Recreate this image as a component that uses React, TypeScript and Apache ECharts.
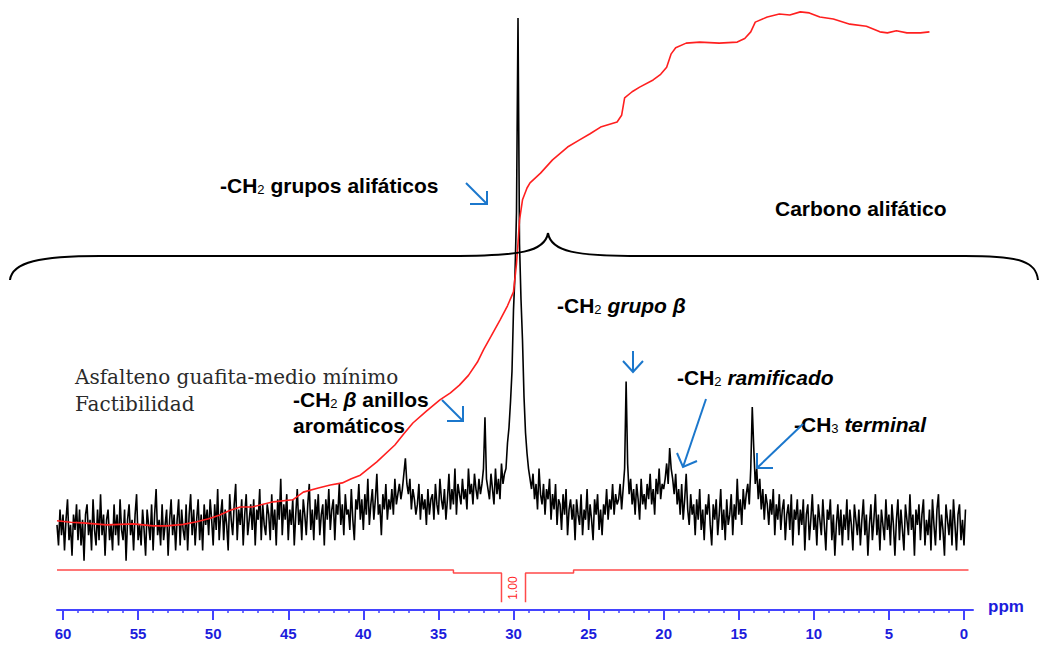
import React, { useEffect, useRef } from "react";
import * as echarts from "echarts";

// 13C NMR spectrum sampled every 0.1 ppm, starting at 60.4 ppm and going down.
const PPM_START = 60.4;
const PPM_STEP = 0.1;
const intensity = [
  // 60.4 – 50.5
  1, -3, 4, -1, 3, -4, 2, 6, -2, 1,
  -5, 3, 0, 5, -2, 4, -3, 2, -6, 3,
  5, -1, 2, -4, 6, 0, -3, 4, -2, 7,
  -1, 3, -5, 2, 4, -2, 1, -4, 5, -1,
  3, -3, 6, 0, -2, 4, -6, 2, 5, -1,
  2, -4, 3, 7, -2, 1, -3, 4, 0, -5,
  4, 1, -2, 5, -4, 3, 8, -1, 2, -3,
  5, -2, 1, 4, -5, 2, 6, -1, 3, -4,
  2, 6, -3, 4, 0, -2, 5, -4, 3, 7,
  -1, 4, -3, 2, 6, -2, 3, -4, 5, 1,
  // 50.4 – 40.5
  4, -1, 6, 2, -3, 5, 0, 8, -2, 3,
  6, -2, 4, 1, -4, 7, 2, -1, 5, 9,
  -2, 4, 1, 6, -3, 3, 7, -1, 2, 5,
  0, 6, -3, 4, 2, 8, -2, 5, 1, -1,
  5, 3, -2, 7, 0, 4, -3, 6, 2, 10,
  -1, 5, 2, 7, -2, 4, 1, 6, -3, 3,
  8, 1, 4, -2, 6, 3, -1, 5, 9, 0,
  4, -2, 6, 2, 7, -1, 3, 5, -3, 6,
  2, 8, 0, 4, 6, -2, 5, 3, 9, 1,
  5, -1, 7, 3, 4, 0, 8, 2, -2, 6,
  // 40.4 – 30.6
  4, 9, 2, 6, 0, 7, 3, 10, 1, 5,
  8, 2, 6, 11, 3, 5, -1, 7, 4, 9,
  2, 6, 4, 8, 3, 10, 5, 7, 9, 6,
  8, 11, 14, 9, 7, 10, 4, 8, 6, 3,
  5, 9, 2, 7, 4, 6, 1, 8, 3, 6,
  7, 2, 9, 5, 3, 10, 6, 4, 8, 2,
  6, 11, 4, 8, 5, 12, 3, 9, 7, 5,
  10, 6, 8, 4, 12, 7, 9, 5, 11, 8,
  6, 10, 7, 9, 12, 22, 10, 8, 6, 11,
  8, 5, 12, 7, 10, 6, 13, 9, 11,
  // 30.5 – 28.8 (main CH2 peak)
  12, 17, 20, 25, 31, 43, 50, 62, 100, 56, 45, 37, 26, 19, 15, 12, 10, 8,
  // 28.7 – 23.1
  11, 6, 9, 4, 12, 7, 5, 9,
  3, 8, 6, 10, 2, 7, 4, 9, 1, 6,
  5, 0, 7, 3, 8, -1, 4, 6, 2, 5,
  -2, 6, 3, 1, 7, -1, 4, 2, 8, 0,
  5, 2, -2, 6, 3, 7, 0, 4, -1, 5,
  3, 8, 2, 6, 4, 9, 3, 7, 5,
  // 23.0 – 0.1
  6, 9, 4, 8, 12, 29, 13, 7, 10, 5,
  8, 3, 9, 6, 2, 10, 5, 7, 4, 9,
  6, 11, 5, 8, 3, 10, 7, 12, 6, 9,
  8, 10, 13, 9, 16, 12, 10, 7, 11, 5,
  8, 3, 9, 2, 6, 11, 4, 1, 7, 3,
  5, -1, 6, 2, 8, 0, 4, -2, 5, 3,
  7, 1, -3, 5, 2, 6, -1, 3, 8, 0,
  4, -2, 6, 1, 3, 7, -1, 5, 2, 10,
  3, 6, 1, 8, 4, 7, 9, 5, 12, 24,
  16, 9, 12, 6, 10, 4, 8, 2, 7, 5,
  1, 6, 3, 8, -1, 5, 2, 7, 0, 4,
  6, -2, 3, 5, 0, 7, -3, 4, 2, 6,
  -1, 4, 1, 6, -4, 3, 5, -2, 2, 7,
  0, 3, -3, 5, 2, -1, 6, 1, -4, 4,
  2, 6, -2, 3, -5, 1, 5, -1, 4, -3,
  3, 0, 6, -2, 4, 1, -4, 5, 2, -1,
  4, -3, 2, 6, -1, 3, -5, 1, 5, -2,
  2, 7, -1, 3, -4, 4, 1, -2, 6, 0,
  3, -3, 5, 1, -5, 2, 6, -2, 4, 0,
  -4, 5, 2, -1, 7, 0, 3, -5, 4, 1,
  5, -2, 3, 6, -3, 2, -1, 4, -4, 6,
  1, -3, 4, 7, -2, 3, 0, -5, 5, 2,
  -1, 4, -3, 6, 1, -4, 3, 5, -2, 2,
  // 0.0 – -0.1
  -3, 4,
];

// Running integral curve (ppm, value)
const integralPpm = [
  60.4, 59.5, 58.7, 57.9, 57.1, 56.2, 55.3, 54.0, 53.1, 52.0, 51.1, 50.3,
  49.6, 48.9, 48.2, 47.4, 46.0, 44.7, 44.0, 43.0, 42.2, 41.4, 40.8, 40.2,
  39.1, 37.9, 37.3, 36.7, 35.8, 34.9, 34.2, 33.6, 33.0, 32.4, 32.0, 31.5,
  30.9, 30.4, 30.0, 29.8, 29.7, 29.6, 29.4, 29.1, 28.9, 28.2, 27.4, 26.4,
  25.6, 24.9, 24.2, 23.1, 22.8, 22.6, 22.1, 21.6, 20.7, 20.2, 19.8, 19.5,
  19.2, 18.5, 17.6, 16.3, 15.1, 14.6, 14.2, 13.9, 13.1, 12.3, 11.6, 10.9,
  10.3, 9.6, 8.7, 7.6, 6.5, 5.6, 5.1, 4.5, 3.8, 2.9, 2.3,
];
const integralValue = [
  1.8, 1.5, 1.4, 1.2, 1.0, 1.1, 1.2, 0.8, 0.8, 1.1, 1.6, 2.2,
  2.9, 3.8, 4.5, 4.5, 5.5, 5.9, 7.4, 8.2, 8.8, 9.2, 10.0, 10.7,
  13.3, 16.6, 18.8, 20.9, 23.2, 25.4, 26.8, 28.3, 30.2, 32.8, 35.2, 37.8,
  41.0, 43.8, 46.5, 52.0, 56.0, 60.5, 64.5, 66.8, 67.8, 69.7, 72.3, 74.8,
  76.2, 77.4, 78.7, 79.7, 81.0, 84.4, 85.6, 86.5, 87.9, 89.0, 90.4, 93.0,
  94.2, 95.1, 95.3, 95.1, 95.3, 96.0, 97.3, 99.2, 100.2, 100.8, 100.6, 101.2,
  101.0, 100.2, 99.8, 98.8, 98.4, 97.3, 97.1, 97.5, 97.1, 97.1, 97.3,
];

// Integration region trace below the spectrum, split at the "1.00" region
const traceLeft: [number, number][] = [
  [60.4, -7.8], [34.0, -7.8], [34.0, -8.4], [30.8, -8.4], [30.8, -14.1],
];
const traceRight: [number, number][] = [
  [29.2, -14.1], [29.2, -8.4], [26.0, -8.4], [26.0, -7.8], [-0.3, -7.8],
];
const integralLabel = "1.00";

const majorTicks = [0, 5, 10, 15, 20, 25, 30, 35, 40, 45, 50, 55, 60];
const minorTicks = [
  1, 2, 3, 4, 6, 7, 8, 9, 11, 12, 13, 14, 16, 17, 18, 19, 21, 22, 23, 24,
  26, 27, 28, 29, 31, 32, 33, 34, 36, 37, 38, 39, 41, 42, 43, 44, 46, 47,
  48, 49, 51, 52, 53, 54, 56, 57, 58, 59,
];

const SANS = "'Liberation Sans', Arial, sans-serif";
const SERIF = "'DejaVu Serif', serif";
const AXIS_BLUE = "#4343ff";
const LABEL_BLUE = "#1c1cdc";
const ARROW_BLUE = "#1b77cc";
const RED = "#ff1f1f";

const rich = {
  b: { fontFamily: SANS, fontWeight: "bold", fontSize: 21, lineHeight: 21, verticalAlign: "middle", fill: "#000" },
  i: { fontFamily: SANS, fontWeight: "bold", fontStyle: "italic", fontSize: 21, lineHeight: 21, verticalAlign: "middle", fill: "#000" },
  s: { fontFamily: SANS, fontSize: 13, lineHeight: 8, verticalAlign: "bottom", fill: "#000" },
};

function label(text: string, x: number, y: number) {
  return {
    type: "text",
    x,
    y,
    z: 10,
    style: { text, rich, align: "left", verticalAlign: "middle", fill: "#000" },
  };
}

function arrow(line: number[][], head: number[][]) {
  return [
    { type: "polyline", z: 10, shape: { points: line }, style: { stroke: ARROW_BLUE, lineWidth: 2, fill: null } },
    { type: "polyline", z: 10, shape: { points: head }, style: { stroke: ARROW_BLUE, lineWidth: 2, fill: null } },
  ];
}

function bez(x1: number, y1: number, cpx1: number, cpy1: number, cpx2: number, cpy2: number, x2: number, y2: number) {
  return {
    type: "bezierCurve",
    z: 9,
    shape: { x1, y1, cpx1, cpy1, cpx2, cpy2, x2, y2 },
    style: { stroke: "#000", lineWidth: 2, fill: null },
  };
}

function seg(x1: number, y1: number, x2: number, y2: number) {
  return { type: "line", z: 9, shape: { x1, y1, x2, y2 }, style: { stroke: "#000", lineWidth: 2 } };
}

export default function App() {
  const ref = useRef<HTMLDivElement>(null);

  useEffect(() => {
    if (!ref.current) return;
    const chart = echarts.init(ref.current, undefined, { renderer: "svg" });

    const spectrum = intensity.map((v, i) => [+(PPM_START - PPM_STEP * i).toFixed(1), v]);
    const integral = integralPpm.map((p, i) => [p, integralValue[i]]);

    const graphic: any[] = [
      // curly brace over the aliphatic region
      bez(10, 280, 12, 262, 40, 256, 100, 256),
      seg(100, 256, 450, 256),
      bez(450, 256, 520, 256, 545, 252, 548, 233),
      bez(548, 233, 551, 252, 576, 256, 640, 256),
      seg(640, 256, 965, 256),
      bez(965, 256, 1022, 256, 1036, 262, 1038, 280),

      label("{b|-CH}{s|2}{b| grupos alifáticos}", 220, 185),
      label("{b|Carbono alifático}", 775, 208),
      label("{b|-CH}{s|2}{b| }{i|grupo β}", 557, 305),
      label("{b|-CH}{s|2}{b| }{i|ramificado}", 677, 377),
      label("{b|-CH}{s|3}{b| }{i|terminal}", 794, 424),
      label("{b|-CH}{s|2}{b| }{i|β}{b| anillos}", 293, 399),
      label("{b|aromáticos}", 293, 425),
      {
        type: "text",
        x: 75,
        y: 377,
        z: 10,
        style: { text: "Asfalteno guafita-medio mínimo", font: `20px ${SERIF}`, fill: "#2a2a2a", verticalAlign: "middle" },
      },
      {
        type: "text",
        x: 75,
        y: 404,
        z: 10,
        style: { text: "Factibilidad", font: `20px ${SERIF}`, fill: "#2a2a2a", verticalAlign: "middle" },
      },

      ...arrow([[466, 183], [487, 204]], [[470, 204], [487, 204], [487, 191]]),
      ...arrow([[442, 400], [463, 421]], [[447, 421], [463, 421], [463, 406]]),
      ...arrow([[633, 351], [633, 372]], [[623, 361], [633, 372], [643, 361]]),
      ...arrow([[706, 399], [683, 467]], [[677, 453], [683, 467], [697, 461]]),
      ...arrow([[803, 424], [757, 468]], [[757, 453], [757, 468], [773, 468]]),

      {
        type: "text",
        x: 513,
        y: 588,
        rotation: Math.PI / 2,
        z: 10,
        style: { text: integralLabel, font: `12px ${SANS}`, fill: RED, align: "center", verticalAlign: "middle" },
      },
      {
        type: "text",
        x: 988,
        y: 606,
        z: 10,
        style: { text: "ppm", font: `bold 17px ${SANS}`, fill: LABEL_BLUE, verticalAlign: "middle" },
      },
    ];

    chart.setOption({
      animation: false,
      grid: { left: 57, right: 67, top: 0, bottom: 35, containLabel: false },
      xAxis: [
        {
          type: "value",
          inverse: true,
          min: -0.6,
          max: 60.4,
          position: "bottom",
          axisLine: { show: true, onZero: false, lineStyle: { color: AXIS_BLUE, width: 2 } },
          axisTick: { show: true, customValues: majorTicks, length: 10, lineStyle: { color: AXIS_BLUE, width: 2 } },
          axisLabel: {
            show: true,
            customValues: majorTicks,
            color: LABEL_BLUE,
            fontWeight: "bold",
            fontSize: 15,
            fontFamily: SANS,
            margin: 16,
          },
          splitLine: { show: false },
        },
        {
          type: "value",
          inverse: true,
          min: -0.6,
          max: 60.4,
          position: "bottom",
          axisLine: { show: false, onZero: false },
          axisTick: { show: true, customValues: minorTicks, length: 3, lineStyle: { color: AXIS_BLUE, width: 1.5 } },
          axisLabel: { show: false },
          splitLine: { show: false },
        },
      ],
      yAxis: { type: "value", min: -15.625, max: 103.52, show: false },
      series: [
        {
          type: "line",
          data: spectrum,
          showSymbol: false,
          silent: true,
          lineStyle: { color: "#000", width: 1.6 },
          z: 2,
        },
        {
          type: "line",
          data: integral,
          showSymbol: false,
          silent: true,
          lineStyle: { color: RED, width: 1.6 },
          z: 3,
          clip: false,
        },
        {
          type: "line",
          data: traceLeft,
          showSymbol: false,
          silent: true,
          lineStyle: { color: "#ff4a4a", width: 1.5 },
          z: 3,
        },
        {
          type: "line",
          data: traceRight,
          showSymbol: false,
          silent: true,
          lineStyle: { color: "#ff4a4a", width: 1.5 },
          z: 3,
        },
      ],
      graphic,
    });

    return () => chart.dispose();
  }, []);

  return (
    <div
      ref={ref}
      style={{ position: "fixed", left: 0, top: 0, width: 1040, height: 645, background: "#fff" }}
    />
  );
}
